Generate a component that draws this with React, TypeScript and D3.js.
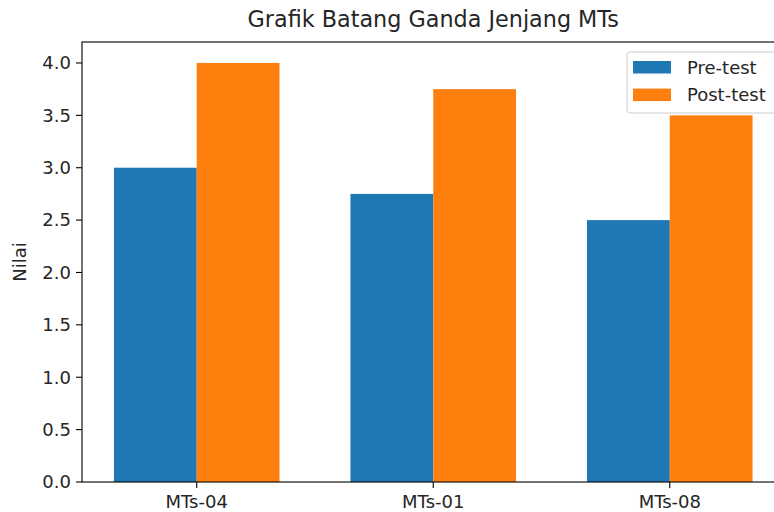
import React from "react";
import * as d3 from "d3";

const categories = ["MTs-04", "MTs-01", "MTs-08"];
const preTest = [3.0, 2.75, 2.5];
const postTest = [4.0, 3.75, 3.5];
const yTicks = [0, 0.5, 1.0, 1.5, 2.0, 2.5, 3.0, 3.5, 4.0];

const W = 774;
const H = 512;
const FONT = "'DejaVu Sans', sans-serif";
const BLUE = "#1f77b4";
const ORANGE = "#ff7f0e";

const App = () => {
  const left = 82;
  const right = 784.5;
  const top = 42;
  const bottom = 482;
  const barW = 0.35;

  const x = d3.scaleLinear().domain([-0.485, 2.485]).range([left, right]);
  const y = d3.scaleLinear().domain([0, 4.2]).range([bottom, top]);

  const series = [
    { name: "Pre-test", values: preTest, color: BLUE, offset: -barW / 2 },
    { name: "Post-test", values: postTest, color: ORANGE, offset: barW / 2 },
  ];

  return (
    <div style={{ position: "fixed", left: 0, top: 0, width: W, height: H }}>
      <svg width={W} height={H} style={{ display: "block", background: "#fff" }} fontFamily={FONT}>
        {/* bars */}
        {series.map((s) =>
          s.values.map((v, i) => (
            <rect
              key={s.name + i}
              x={x(i + s.offset - barW / 2)}
              y={y(v)}
              width={x(barW) - x(0)}
              height={y(0) - y(v)}
              fill={s.color}
            />
          ))
        )}

        {/* spines */}
        <rect x={left} y={top} width={right - left} height={bottom - top} fill="none" stroke="#000" strokeWidth={1.1} />

        {/* y axis */}
        {yTicks.map((t) => (
          <g key={t} transform={`translate(0,${y(t)})`}>
            <line x1={left - 6} x2={left} stroke="#000" strokeWidth={1.1} />
            <text x={left - 11} dy="0.35em" textAnchor="end" fontSize={18} fill="#262626">
              {t.toFixed(1)}
            </text>
          </g>
        ))}
        <text
          transform={`translate(20,${(top + bottom) / 2}) rotate(-90)`}
          textAnchor="middle"
          dy="0.35em"
          fontSize={18}
          fill="#262626"
        >
          Nilai
        </text>

        {/* x axis */}
        {categories.map((c, i) => (
          <g key={c} transform={`translate(${x(i)},${bottom})`}>
            <line y1={0} y2={6} stroke="#000" strokeWidth={1.1} />
            <text y={26} textAnchor="middle" fontSize={18} fill="#262626">
              {c}
            </text>
          </g>
        ))}

        {/* title */}
        <text x={(left + right) / 2} y={27} textAnchor="middle" fontSize={22.3} fill="#262626">
          Grafik Batang Ganda Jenjang MTs
        </text>

        {/* legend */}
        <g>
          <rect x={627} y={52} width={150} height={61} rx={3} fill="#fff" fillOpacity={0.8} stroke="#ccc" />
          {series.map((s, i) => (
            <g key={s.name} transform={`translate(633,${61 + i * 27.6})`}>
              <rect width={38} height={12.5} fill={s.color} />
              <text x={54} y={6.5} dy="0.35em" fontSize={18} fill="#262626">
                {s.name}
              </text>
            </g>
          ))}
        </g>
      </svg>
    </div>
  );
};

export default App;
